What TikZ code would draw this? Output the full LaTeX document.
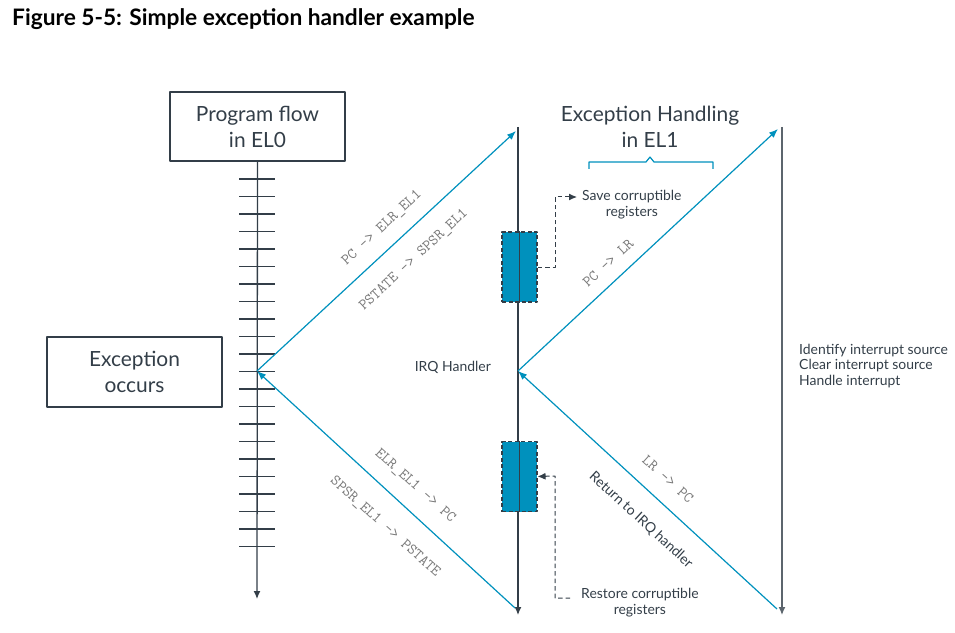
\documentclass[tikz,border=0pt]{standalone}
\usepackage{fontspec}
\setmainfont{Lato}
\usepackage{tikz}
\usetikzlibrary{arrows.meta,%
                shapes,positioning}
\definecolor{armdark}{RGB}{51,62,72}
\definecolor{armblue}{RGB}{0,145,189}
\definecolor{armgrey}{RGB}{120,120,120}
\tikzstyle{titlebox}=[draw=armdark,line width=1.1bp,minimum width=175bp,minimum height=69bp,align=center,font=\fontsize{21}{26}\selectfont,text=armdark]
\tikzstyle{flow}=[draw=armdark,line width=1.3bp,-{Latex[length=8bp,width=7bp]}]
\tikzstyle{call}=[draw=armblue,line width=1.2bp,-{Latex[length=9bp,width=7bp]}]
\tikzstyle{regbox}=[draw=armdark,dash pattern=on 4bp off 2.5bp,line width=1.1bp,fill=armblue,minimum width=35bp,minimum height=70bp,inner sep=0pt]
\tikzstyle{link}=[draw=armdark,dash pattern=on 4.5bp off 3bp,line width=1bp]
\tikzstyle{code}=[font=\ttfamily\fontsize{15.4}{18}\selectfont,text=armgrey,inner sep=0pt]
\tikzstyle{note}=[font=\fontsize{14}{16}\selectfont,text=armdark,align=center,inner sep=0pt]

\begin{document}
\begin{tikzpicture}[x=1bp,y=-1bp,line join=bevel]
	\useasboundingbox (0,0) rectangle (955,633);
	%%
	\node (title) at (12,19) [anchor=west,inner sep=0pt,font=\bfseries\fontsize{22.8}{26}\selectfont,text=black] {Figure 5-5: Simple exception handler example};
	\node (el0) at (257.5,126.5) [titlebox] {Program flow\\in EL0};
	\node (exc) at (134.5,372) [titlebox,minimum height=70bp] {Exception\\occurs};
	\node (el1) at (650,127) [align=center,font=\fontsize{21}{26}\selectfont,text=armdark] {Exception Handling\\in EL1};
	  \coordinate (p0) at (257,371);
	  \coordinate (p0end) at (257,599);
	  \coordinate (irq) at (518,371);
	  \coordinate (irqtop) at (518,127);
	  \coordinate (irqend) at (518,615);
	  \coordinate (hdl) at (782,371);
	  \coordinate (hdltop) at (782,127);
	  \coordinate (hdlend) at (782,615);
	%
	  \draw [flow] (el0.south) -- (p0end);
	  \foreach \i in {0,...,21}
	    \draw [armdark,line width=1.3bp] (239,179+17.5*\i) -- (275,179+17.5*\i);
	  \draw [armdark,line width=1.3bp] (irqtop) -- (irq);
	  \draw [flow] (irq) -- (irqend);
	  \draw [flow,draw=armdark!80] (hdltop) -- (hdlend);
	%
	  \node (save) at (519.5,267) [regbox] {};
	  \node (restore) at (519.5,476.5) [regbox] {};
	  \draw [armdark,line width=1.3bp] (save.north) -- (save.south);
	  \draw [armdark,line width=1.3bp] (restore.north) -- (restore.south);
	%
	  \draw [call] (p0) -- (516,131);
	  \draw [call] (515,608) -- (p0);
	  \draw [call] (irq) -- (778,129);
	  \draw [call] (777,609) -- (irq);
	%
	  \node (savetxt) at (582,205) [note,anchor=west] {Save corruptible\\registers};
	  \node (restoretxt) at (581,603) [note,anchor=west] {Restore corruptible\\registers};
	  \draw [link,-{Latex[length=8bp,width=7bp]}] (save.east) -- (555,267) -- (555,197) -- (577,197);
	  \draw [link,{Latex[length=8bp,width=7bp]}-] (restore.east) -- (555,476) -- (555,598) -- (573,598);
	%
	  \draw [armblue,line width=1.2bp] (589,169) -- (589,162) -- (646,162) -- (650,157) -- (654,162) -- (713,162) -- (713,169);
	%
	  \node (irqtxt) at (491,367) [note,anchor=east] {IRQ Handler};
	  \node (steps) at (799,366) [note,anchor=west,align=left] {Identify interrupt source\\Clear interrupt source\\Handle interrupt};
	  \node (ret) at (641,520) [note,rotate=-42.5] {Return to IRQ handler};
	%
	  \node (c1) at (382,228) [code,rotate=43] {PC -> ELR\_EL1};
	  \node (c2) at (414,260) [code,rotate=43] {PSTATE -> SPSR\_EL1};
	  \node (c3) at (415,486) [code,rotate=-42] {ELR\_EL1 -> PC};
	  \node (c4) at (385,527) [code,rotate=-42] {SPSR\_EL1 -> PSTATE};
	  \node (c5) at (608,263) [code,rotate=43] {PC -> LR};
	  \node (c6) at (668,479) [code,rotate=-42] {LR -> PC};
	%
	\end{tikzpicture}
\end{document}
